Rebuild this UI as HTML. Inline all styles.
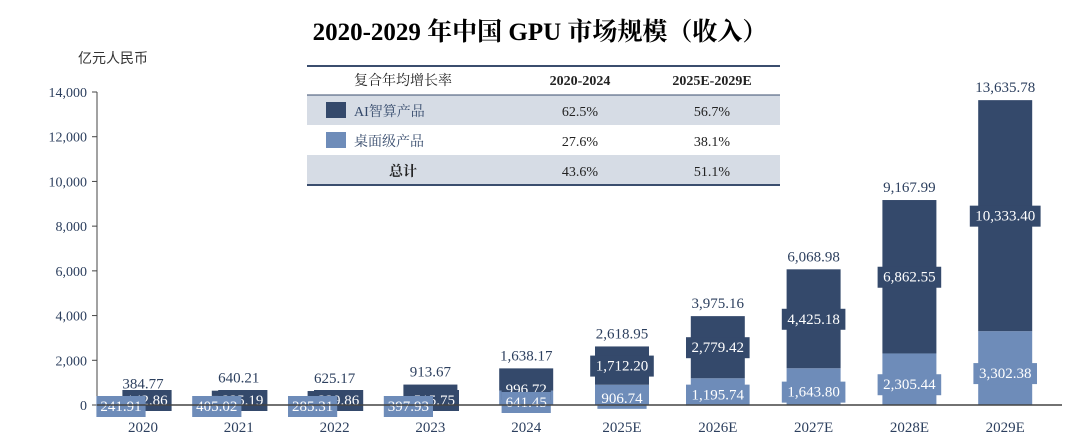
<!DOCTYPE html>
<html><head><meta charset="utf-8"><style>
body{margin:0;background:#fff;width:1080px;height:437px;overflow:hidden;font-family:"Liberation Serif","Noto Serif CJK SC",serif}
svg{display:block}
</style></head><body>
<svg width="1080" height="437">
<text x="540" y="40" text-anchor="middle" font-size="25" font-weight="bold" fill="#000" font-family="Liberation Serif, Noto Serif CJK SC, serif">2020-2029 年中国 GPU 市场规模（收入）</text>
<text x="78" y="63" font-size="14" fill="#333" font-family="Liberation Serif, Noto Sans CJK SC, serif">亿元人民币</text>
<g id="axis"></g>
<g id="bars"></g>
<g id="table">
<rect x="307" y="95" width="473" height="30" fill="#d6dce5"/>
<rect x="307" y="155" width="473" height="30" fill="#d6dce5"/>
<line x1="307" y1="66" x2="780" y2="66" stroke="#3b4e6e" stroke-width="2"/>
<line x1="307" y1="95" x2="780" y2="95" stroke="#3b4e6e" stroke-width="1"/>
<line x1="307" y1="185" x2="780" y2="185" stroke="#3b4e6e" stroke-width="2"/>
<g font-size="14" fill="#222" text-anchor="middle">
<text x="403" y="85">复合年均增长率</text>
<text x="580" y="85" font-weight="bold">2020-2024</text>
<text x="712" y="85" font-weight="bold">2025E-2029E</text>
<rect x="326" y="102" width="20" height="16" fill="#34496b"/>
<text x="354" y="116" text-anchor="start" fill="#34496b">AI智算产品</text>
<text x="580" y="116">62.5%</text>
<text x="712" y="116">56.7%</text>
<rect x="326" y="132" width="20" height="16" fill="#6e8cb9"/>
<text x="354" y="146" text-anchor="start" fill="#34496b">桌面级产品</text>
<text x="580" y="146">27.6%</text>
<text x="712" y="146">38.1%</text>
<text x="403" y="176" font-weight="bold">总计</text>
<text x="580" y="176">43.6%</text>
<text x="712" y="176">51.1%</text>
</g></g>
</svg>
<script>
const categories=["2020","2021","2022","2023","2024","2025E","2026E","2027E","2028E","2029E"];
const aiValues=[142.86,235.19,339.86,515.75,996.72,1712.20,2779.42,4425.18,6862.55,10333.40];
const desktopValues=[241.91,405.02,285.31,397.93,641.45,906.74,1195.74,1643.80,2305.44,3302.38];
const totalValues=[384.77,640.21,625.17,913.67,1638.17,2618.95,3975.16,6068.98,9167.99,13635.78];
const yTicks=[0,2000,4000,6000,8000,10000,12000,14000];
const NS="http://www.w3.org/2000/svg";
const y0=405,yTop=92,yMax=14000;
const y=v=>y0-(v/yMax)*(y0-yTop);
const x=i=>143+i*95.8;
const fmt=v=>v.toLocaleString("en-US",{minimumFractionDigits:2,maximumFractionDigits:2});
function mk(tag,attrs,parent){const e=document.createElementNS(NS,tag);for(const k in attrs)e.setAttribute(k,attrs[k]);parent.appendChild(e);return e;}
const ax=document.getElementById("axis"),bg=document.getElementById("bars");
let l=mk("line",{x1:97,y1:92,x2:97,y2:405,stroke:"#444","stroke-width":1},ax);


yTicks.forEach(t=>{
 mk("line",{x1:92,y1:y(t),x2:97,y2:y(t),stroke:"#444"},ax);
 const tx=mk("text",{x:87,y:y(t)+5,"text-anchor":"end","font-size":14,fill:"#2c3f5e"},ax);
 tx.textContent=t.toLocaleString("en-US");
 
 
});
function label(cx,cy,txt,fill){
 const g=mk("g",{},bg);
 
 
 const w=txt.length*7.2+6;
 mk("rect",{x:cx-w/2,y:cy-10,width:w,height:21,fill:fill},g);
 const t=mk("text",{x:cx,y:cy+5,"text-anchor":"middle","font-size":15,fill:"#fff"},g);
 t.textContent=txt;
}
const bw=54;
categories.forEach((c,i)=>{
 const cx=x(i),d=desktopValues[i],a=aiValues[i];
 const r1=mk("rect",{x:cx-bw/2,y:y(d),width:bw,height:y0-y(d),fill:"#6e8cb9"},bg);
 
 
 const r2=mk("rect",{x:cx-bw/2,y:y(d+a),width:bw,height:y(d)-y(d+a),fill:"#34496b"},bg);
 
 
 if(i<4){label(cx+4,400,fmt(a),"#34496b");label(cx-22,406,fmt(d),"#6e8cb9");}
 else if(i==4){label(cx,389,fmt(a),"#34496b");label(cx,402,fmt(d),"#6e8cb9");}
 else{label(cx,(y(d)+y(d+a))/2,fmt(a),"#34496b");label(cx,(y0+y(d))/2+(i<7?3:5),fmt(d),"#6e8cb9");}
 const tt=mk("text",{x:cx,y:y(totalValues[i])-8,"text-anchor":"middle","font-size":15,fill:"#2c3f5e"},bg);
 tt.textContent=fmt(totalValues[i]);
 
 
 const xl=mk("text",{x:cx,y:432,"text-anchor":"middle","font-size":15,fill:"#2c3f5e"},bg);
 xl.textContent=c;
 
 
});
const base=mk("line",{x1:97,y1:405,x2:1062,y2:405,stroke:"#444","stroke-width":1.5},bg);


</script>
</body></html>
